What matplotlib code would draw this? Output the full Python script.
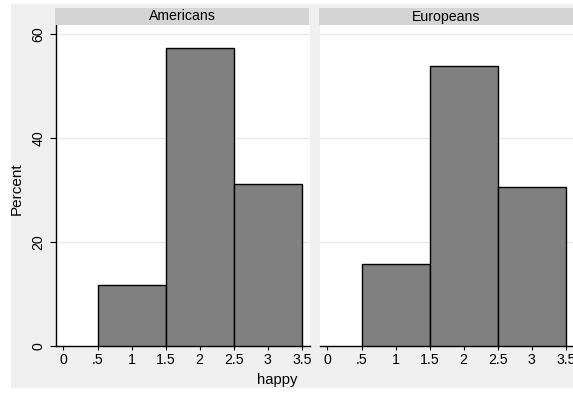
import matplotlib
matplotlib.use("Agg")
import matplotlib.pyplot as plt
from matplotlib.patches import Rectangle

plt.rcParams['font.family'] = ['Liberation Sans', 'DejaVu Sans']

# data
groups = ['Americans', 'Europeans']
bin_edges = [0.5, 1.5, 2.5, 3.5]
percents = {
    'Americans': [11.8, 57.2, 31.2],
    'Europeans': [15.7, 53.8, 30.6],
}
xticks = [0, 0.5, 1, 1.5, 2, 2.5, 3, 3.5]
xticklabels = ['0', '.5', '1', '1.5', '2', '2.5', '3', '3.5']
yticks = [0, 20, 40, 60]

W, H = 573, 394
fig = plt.figure(figsize=(W / 100, H / 100), dpi=100)
fig.patch.set_facecolor('white')

# outer gray graph region
fig.patches.append(Rectangle((11 / W, 1 - 388 / H), 1, (388 - 4) / H,
                             transform=fig.transFigure, facecolor='#efefef',
                             edgecolor='none', zorder=-10))

fs = 10.2
lefts = [56, 320]
pw = 254
bot, top = 346, 25
for i, g in enumerate(groups):
    ax = fig.add_axes([lefts[i] / W, 1 - bot / H, pw / W, (bot - top) / H])
    ax.set_facecolor('white')
    vals = percents[g]
    widths = [bin_edges[k + 1] - bin_edges[k] for k in range(len(vals))]
    ax.bar(bin_edges[:-1], vals, width=widths, align='edge', color='#808080',
           edgecolor='black', linewidth=1, zorder=3)
    ax.set_xlim(-0.11, 3.62)
    ax.set_ylim(0, 61.7)
    ax.set_yticks(yticks)
    ax.grid(axis='y', color='#eaeaea', linewidth=1, zorder=0)
    ax.set_xticks(xticks)
    ax.set_xticklabels(xticklabels, fontsize=fs)
    ax.tick_params(axis='x', length=3, width=0.8, pad=2)
    for s in ['top', 'right']:
        ax.spines[s].set_visible(False)
    ax.spines['bottom'].set_linewidth(1)
    if i == 0:
        ax.spines['left'].set_linewidth(1)
        ax.set_yticklabels([str(t) for t in yticks], fontsize=fs, rotation=90, va='center')
        ax.tick_params(axis='y', length=4.5, width=0.8, pad=3)
    else:
        ax.spines['left'].set_visible(False)
        ax.tick_params(axis='y', left=False, labelleft=False)

    # strip with group title
    sax = fig.add_axes([(lefts[i] - 1) / W, 1 - 25 / H, pw / W, 17 / H])
    sax.set_facecolor('#d4d4d4')
    sax.set_xticks([])
    sax.set_yticks([])
    for s in sax.spines.values():
        s.set_visible(False)
    sax.text(0.5, 0.5, g, ha='center', va='center', fontsize=fs, transform=sax.transAxes)

fig.text(17 / W, 1 - 189 / H, 'Percent', rotation=90, ha='center', va='center', fontsize=fs + 0.8)
fig.text(277 / W, 1 - 380 / H, 'happy', ha='center', va='center', fontsize=fs + 0.5)

fig.savefig('out.png', dpi=100, facecolor=fig.get_facecolor())
